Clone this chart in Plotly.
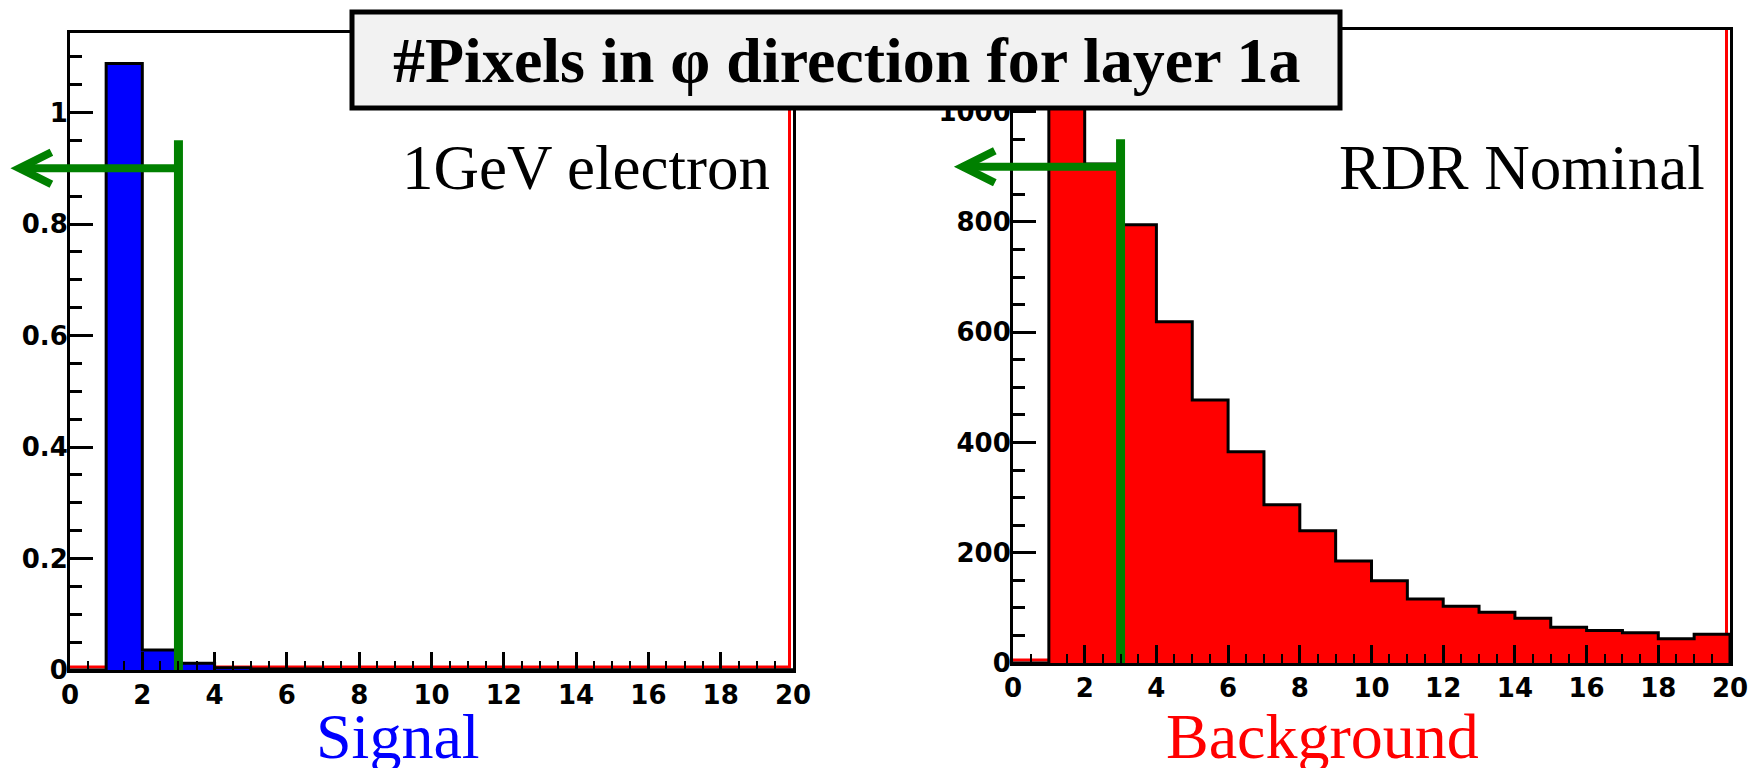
import plotly.graph_objects as go

# ---------------- data ----------------
bin_edges = list(range(0, 21))
signal_vals = [0, 1.088, 0.036, 0.012, 0.004, 0.002, 0.002, 0.001, 0.001, 0.001,
               0.001, 0.001, 0.0005, 0.0005, 0.0005, 0.0005, 0.0005, 0.0005, 0.0005, 0.0005]
background_vals = [0, 1093, 905, 795, 619, 477, 383, 287, 240, 185,
                   149, 116, 103, 92, 81, 65, 59, 55, 44, 52]
cut_value = 3
signal_cut_line = [0.95, 0.90]        # top of vertical cut line, arrow level
background_cut_line = [950, 900]
arrow_tip_x = -1.4
x_range = [0, 20]
signal_y_range = [0, 1.1426]
background_y_range = [0, 1148]
x_ticks = list(range(0, 21, 2))

title_text = "#Pixels in φ direction for layer 1a"
signal_label = "1GeV electron"
background_label = "RDR Nominal"

W, H = 1751, 768
GREEN = "#008000"

fig = go.Figure()

def add_hist(vals, color, xa, ya):
    centers = [e + 0.5 for e in bin_edges[:-1]]
    fig.add_trace(go.Bar(x=centers, y=vals, width=1, marker=dict(color=color, line=dict(width=0)),
                         xaxis=xa, yaxis=ya, showlegend=False, hoverinfo="skip"))
    xs = [bin_edges[0]] + bin_edges[:-1] + [bin_edges[-1], bin_edges[-1]]
    ys = [0] + vals + [vals[-1], 0]
    fig.add_trace(go.Scatter(x=xs, y=ys, mode="lines", line=dict(color="black", width=3, shape="hv"),
                             xaxis=xa, yaxis=ya, showlegend=False, hoverinfo="skip"))

def add_cut(cut, levels, xa, ya, yrng):
    fig.add_trace(go.Scatter(x=[cut, cut], y=[0, levels[0]], mode="lines",
                             line=dict(color=GREEN, width=9), xaxis=xa, yaxis=ya,
                             showlegend=False, hoverinfo="skip"))
    fx = lambda v: (v - x_range[0]) / (x_range[1] - x_range[0])
    fy = lambda v: (v - yrng[0]) / (yrng[1] - yrng[0])
    xd = xa + " domain"
    yd = ya + " domain"
    # horizontal arrow shaft
    fig.add_shape(type="line", xref=xd, yref=yd,
                  x0=fx(arrow_tip_x), x1=fx(cut), y0=fy(levels[1]), y1=fy(levels[1]),
                  line=dict(color=GREEN, width=8), layer="above")
    # open arrow head (pixel sized, anchored at arrow tip)
    fig.add_shape(type="path", xref=xd, yref=yd,
                  xsizemode="pixel", ysizemode="pixel",
                  xanchor=fx(arrow_tip_x), yanchor=fy(levels[1]),
                  path="M 32,16 L 0,0 L 32,-16",
                  line=dict(color=GREEN, width=8), layer="above")

add_hist(signal_vals, "#0000ff", "x", "y")
add_hist(background_vals, "#ff0000", "x2", "y2")
add_cut(cut_value, signal_cut_line, "x", "y", signal_y_range)
add_cut(cut_value, background_cut_line, "x2", "y2", background_y_range)

left_x = [70 / W, 793 / W]
left_y = [(H - 670) / H, (H - 33) / H]
right_x = [1013 / W, 1730 / W]
right_y = [(H - 663) / H, (H - 30) / H]

tickfont = dict(family="DejaVu Sans, Liberation Sans, sans-serif", size=26, color="black", weight="bold")

def xaxis_cfg(domain, anchor):
    return dict(domain=domain, anchor=anchor, range=x_range, tickvals=x_ticks,
                ticks="inside", ticklen=18, tickwidth=3, tickcolor="black",
                minor=dict(ticks="inside", ticklen=9, tickwidth=2, tickcolor="black", dtick=0.5),
                showline=True, linewidth=3, linecolor="black", mirror=True,
                showgrid=False, zeroline=False, tickfont=tickfont, ticklabelstandoff=0,
                automargin=False, fixedrange=True)

def yaxis_cfg(domain, anchor, rng, dtick, mdtick):
    return dict(domain=domain, anchor=anchor, range=rng, dtick=dtick, tick0=0,
                ticks="inside", ticklen=23, tickwidth=3, tickcolor="black",
                minor=dict(ticks="inside", ticklen=12, tickwidth=3, tickcolor="black", dtick=mdtick),
                showline=True, linewidth=3, linecolor="black", mirror=True,
                showgrid=False, zeroline=False, tickfont=tickfont, ticklabelstandoff=-6,
                automargin=False, fixedrange=True)

fig.update_layout(
    template="none",
    width=W, height=H, autosize=False,
    margin=dict(l=0, r=0, t=0, b=0, pad=0, autoexpand=False),
    paper_bgcolor="white", plot_bgcolor="white",
    bargap=0, barmode="overlay", showlegend=False,
    xaxis=xaxis_cfg(left_x, "y"),
    yaxis=yaxis_cfg(left_y, "x", signal_y_range, 0.2, 0.05),
    xaxis2=xaxis_cfg(right_x, "y2"),
    yaxis2=yaxis_cfg(right_y, "x2", background_y_range, 200, 50),
)

# red frame artefact (right and bottom edge, inside frame)
for xr, yr, dom_w, dom_h in [("x domain", "y domain", 723, 637), ("x2 domain", "y2 domain", 717, 633)]:
    dx = 3.5 / dom_w
    dy = 3.0 / dom_h
    fig.add_shape(type="path", xref=xr, yref=yr,
                  path=f"M 0,{dy} L {1 - dx},{dy} L {1 - dx},1",
                  line=dict(color="#ff0000", width=3), layer="below")

# title box
fig.add_shape(type="rect", xref="paper", yref="paper",
              x0=352 / W, x1=1340 / W, y0=(H - 108) / H, y1=(H - 12) / H,
              fillcolor="#f2f2f2", line=dict(color="black", width=5), layer="above")
fig.add_annotation(x=846 / W, y=(H - 60) / H, xref="paper", yref="paper",
                   text="<b>" + title_text + "</b>", showarrow=False,
                   font=dict(family="Liberation Serif, Times New Roman, serif", size=64, color="black"),
                   xanchor="center", yanchor="middle")

serif = "Liberation Serif, Times New Roman, serif"
fig.add_annotation(x=772 / W, y=(H - 168) / H, xref="paper", yref="paper",
                   text=signal_label, showarrow=False,
                   font=dict(family=serif, size=63, color="black"),
                   xanchor="right", yanchor="middle")
fig.add_annotation(x=1707 / W, y=(H - 168) / H, xref="paper", yref="paper",
                   text=background_label, showarrow=False,
                   font=dict(family=serif, size=63, color="black"),
                   xanchor="right", yanchor="middle")
fig.add_annotation(x=398 / W, y=(H - 736) / H, xref="paper", yref="paper",
                   text="Signal", showarrow=False,
                   font=dict(family=serif, size=64, color="#0000ff"),
                   xanchor="center", yanchor="middle")
fig.add_annotation(x=1322 / W, y=(H - 736) / H, xref="paper", yref="paper",
                   text="Background", showarrow=False,
                   font=dict(family=serif, size=64, color="#ff0000"),
                   xanchor="center", yanchor="middle")

fig.write_html("out.html", config={"displayModeBar": False},
               post_script="document.body.style.margin='0px';")
